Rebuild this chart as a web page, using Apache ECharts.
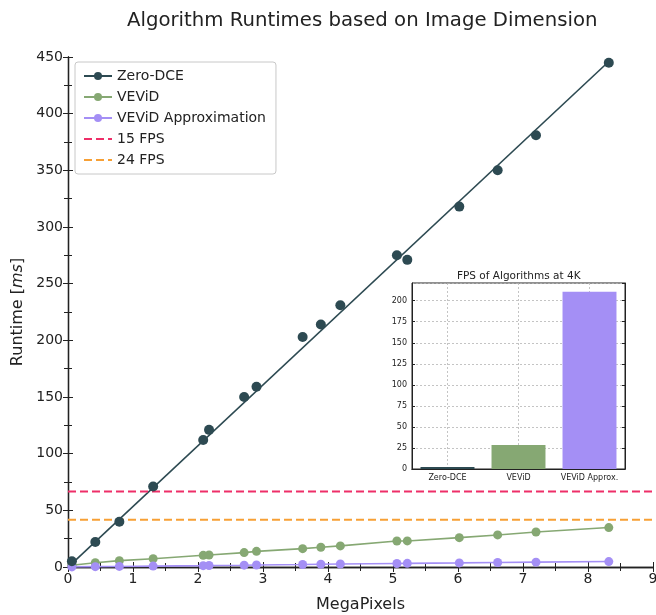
<!DOCTYPE html>
<html>
<head>
<meta charset="utf-8">
<script src="https://cdn.jsdelivr.net/npm/echarts@6/dist/echarts.min.js"></script>
<style>
  html, body { margin: 0; padding: 0; background: #fff; }
  #chart { width: 656px; height: 615px; }
</style>
</head>
<body>
<div id="chart"></div>
<script>
// runtime vs image size
var megaPixels = [0.06, 0.42, 0.79, 1.31, 2.08, 2.17, 2.71, 2.90, 3.61, 3.89, 4.19, 5.06, 5.22, 6.02, 6.61, 7.20, 8.32]
var zeroDceMs = [5, 22, 40, 71, 112, 121, 150, 159, 203, 214, 231, 275, 271, 318, 350, 381, 445]
var vevidMs = [1.5, 3.8, 5.6, 7.3, 10.3, 10.6, 12.7, 13.8, 16.2, 17.4, 18.6, 22.9, 23.0, 25.9, 28.3, 30.9, 34.8]
var vevidApproxMs = [0.1, 0.3, 0.5, 0.8, 1.2, 1.3, 1.6, 1.8, 2.2, 2.4, 2.6, 3.1, 3.2, 3.6, 4.0, 4.3, 4.8]
// fitted line for Zero-DCE (end points)
var zeroDceFitX = [0.06, 8.32]
var zeroDceFitMs = [3, 446]
// frame rate thresholds in ms
var fps15Ms = 66.7
var fps24Ms = 41.7
// inset: FPS at 4K
var fpsNames = ['Zero-DCE', 'VEViD', 'VEViD Approx.']
var fps4k = [2.25, 28.6, 210.5]

var cDark = '#2d4a52'
var cGreen = '#86a873'
var cPurple = '#a48ff5'
var cPink = '#ee2e68'
var cOrange = '#f7a035'
var ink = '#222'

function pairs(xs, ys) {
  return xs.map(function (x, i) { return [x, ys[i]] })
}

var chart = echarts.init(document.getElementById('chart'))

var mainAxisLine = { lineStyle: { color: ink, width: 1.3 } }
var mainTick = { inside: true, length: 5, lineStyle: { color: ink, width: 1 } }
var mainMinor = { show: true, splitNumber: 2, length: 4, lineStyle: { color: ink, width: 1 } }

var option = {
  animation: false,
  backgroundColor: '#fff',
  textStyle: { fontFamily: 'DejaVu Sans' },
  title: [
    {
      text: 'Algorithm Runtimes based on Image Dimension',
      left: 122,
      top: 6,
      textStyle: { fontSize: 19.7, fontWeight: 'normal', color: ink, fontFamily: 'DejaVu Sans' }
    },
    {
      text: 'FPS of Algorithms at 4K',
      left: 452,
      top: 266,
      textStyle: { fontSize: 10.5, fontWeight: 'normal', color: ink, fontFamily: 'DejaVu Sans' }
    }
  ],
  legend: {
    data: ['Zero-DCE', 'VEViD', 'VEViD Approximation', '15 FPS', '24 FPS'],
    orient: 'vertical',
    left: 75,
    top: 62,
    itemWidth: 28,
    itemHeight: 10,
    itemGap: 7,
    padding: [7, 10, 7, 8],
    backgroundColor: '#fff',
    borderColor: '#c8c8c8',
    borderWidth: 1,
    borderRadius: 3,
    textStyle: { fontSize: 14, color: ink, fontFamily: 'DejaVu Sans' }
  },
  grid: [
    { left: 68, top: 57, right: 3, bottom: 48, outerBoundsMode: 'none', containLabel: false },
    {
      left: 412, top: 283, width: 213, height: 186, outerBoundsMode: 'none', containLabel: false,
      show: true, backgroundColor: '#fff', borderColor: ink, borderWidth: 1, z: 5
    }
  ],
  xAxis: [
    {
      gridIndex: 0, type: 'value', min: 0, max: 9, interval: 1,
      axisLine: mainAxisLine, axisTick: mainTick, minorTick: mainMinor,
      splitLine: { show: false },
      axisLabel: { fontSize: 14, color: ink, margin: 5 },
      name: 'MegaPixels', nameLocation: 'middle', nameGap: 30,
      nameTextStyle: { fontSize: 16, color: ink }
    },
    {
      gridIndex: 0, type: 'value', position: 'top', min: 0, max: 9, interval: 1,
      axisLine: mainAxisLine, axisTick: mainTick, minorTick: mainMinor,
      splitLine: { show: false }, axisLabel: { show: false }
    },
    {
      gridIndex: 1, type: 'category', data: fpsNames, z: 6,
      axisLine: { lineStyle: { color: ink, width: 1 } },
      axisTick: { inside: true, alignWithLabel: true, length: 3, lineStyle: { color: ink } },
      axisLabel: { fontSize: 8, color: ink, margin: 5, interval: 0 },
      splitLine: { show: true, alignWithLabel: true, lineStyle: { color: '#b5b5b5', type: [2, 2], width: 0.8 } }
    },
    {
      gridIndex: 1, type: 'category', data: fpsNames, position: 'top', z: 6,
      axisLine: { lineStyle: { color: ink, width: 1 } },
      axisTick: { inside: true, alignWithLabel: true, length: 3, lineStyle: { color: ink } },
      axisLabel: { show: false }, splitLine: { show: false }
    }
  ],
  yAxis: [
    {
      gridIndex: 0, type: 'value', min: 0, max: 450, interval: 50,
      axisLine: mainAxisLine, axisTick: mainTick, minorTick: mainMinor,
      splitLine: { show: false },
      axisLabel: { fontSize: 14, color: ink, margin: 5 },
      name: 'Runtime [{i|ms}]', nameLocation: 'middle', nameGap: 42,
      nameTextStyle: {
        fontSize: 16, color: ink,
        rich: { i: { fontSize: 16, fontStyle: 'italic', color: ink } }
      }
    },
    {
      gridIndex: 0, type: 'value', position: 'right', min: 0, max: 450, interval: 50,
      axisLine: mainAxisLine, axisTick: mainTick, minorTick: mainMinor,
      splitLine: { show: false }, axisLabel: { show: false }
    },
    {
      gridIndex: 1, type: 'value', min: 0, max: 221, interval: 25, z: 6,
      axisLine: { show: true, lineStyle: { color: ink, width: 1 } },
      axisTick: { show: true, inside: true, length: 3, lineStyle: { color: ink } },
      axisLabel: { fontSize: 8, color: ink, margin: 5, showMaxLabel: false },
      splitLine: { show: true, lineStyle: { color: '#b5b5b5', type: [2, 2], width: 0.8 } }
    },
    {
      gridIndex: 1, type: 'value', position: 'right', min: 0, max: 221, interval: 25, z: 6,
      axisLine: { show: true, lineStyle: { color: ink, width: 1 } },
      axisTick: { show: true, inside: true, length: 3, lineStyle: { color: ink } },
      axisLabel: { show: false }, splitLine: { show: false }
    }
  ],
  series: [
    {
      name: 'Zero-DCE', type: 'line', xAxisIndex: 0, yAxisIndex: 0,
      data: pairs(zeroDceFitX, zeroDceFitMs),
      symbol: 'none', itemStyle: { color: cDark },
      lineStyle: { color: cDark, width: 1.6 }, z: 3
    },
    {
      name: 'Zero-DCE points', type: 'scatter', xAxisIndex: 0, yAxisIndex: 0,
      data: pairs(megaPixels, zeroDceMs),
      symbolSize: 10, itemStyle: { color: cDark, opacity: 1 }, z: 4
    },
    {
      name: 'VEViD', type: 'line', xAxisIndex: 0, yAxisIndex: 0,
      data: pairs(megaPixels, vevidMs),
      symbol: 'circle', symbolSize: 9, showSymbol: true,
      itemStyle: { color: cGreen }, lineStyle: { color: cGreen, width: 1.6 }, z: 3
    },
    {
      name: 'VEViD Approximation', type: 'line', xAxisIndex: 0, yAxisIndex: 0,
      data: pairs(megaPixels, vevidApproxMs),
      symbol: 'circle', symbolSize: 9, showSymbol: true,
      itemStyle: { color: cPurple }, lineStyle: { color: cPurple, width: 1.6 }, z: 3
    },
    {
      name: '15 FPS', type: 'line', xAxisIndex: 0, yAxisIndex: 0,
      data: [[0, fps15Ms], [9, fps15Ms]],
      symbol: 'none', itemStyle: { color: 'rgba(0,0,0,0)' },
      lineStyle: { color: cPink, width: 2, type: [8, 4] }, z: 3
    },
    {
      name: '24 FPS', type: 'line', xAxisIndex: 0, yAxisIndex: 0,
      data: [[0, fps24Ms], [9, fps24Ms]],
      symbol: 'none', itemStyle: { color: 'rgba(0,0,0,0)' },
      lineStyle: { color: cOrange, width: 2, type: [8, 4] }, z: 3
    },
    {
      name: 'FPS at 4K', type: 'bar', xAxisIndex: 2, yAxisIndex: 2,
      barCategoryGap: '24%', z: 7,
      data: fps4k.map(function (v, i) {
        return { value: v, itemStyle: { color: [cDark, cGreen, cPurple][i] } }
      })
    }
  ]
}

option && chart.setOption(option)
</script>
</body>
</html>
